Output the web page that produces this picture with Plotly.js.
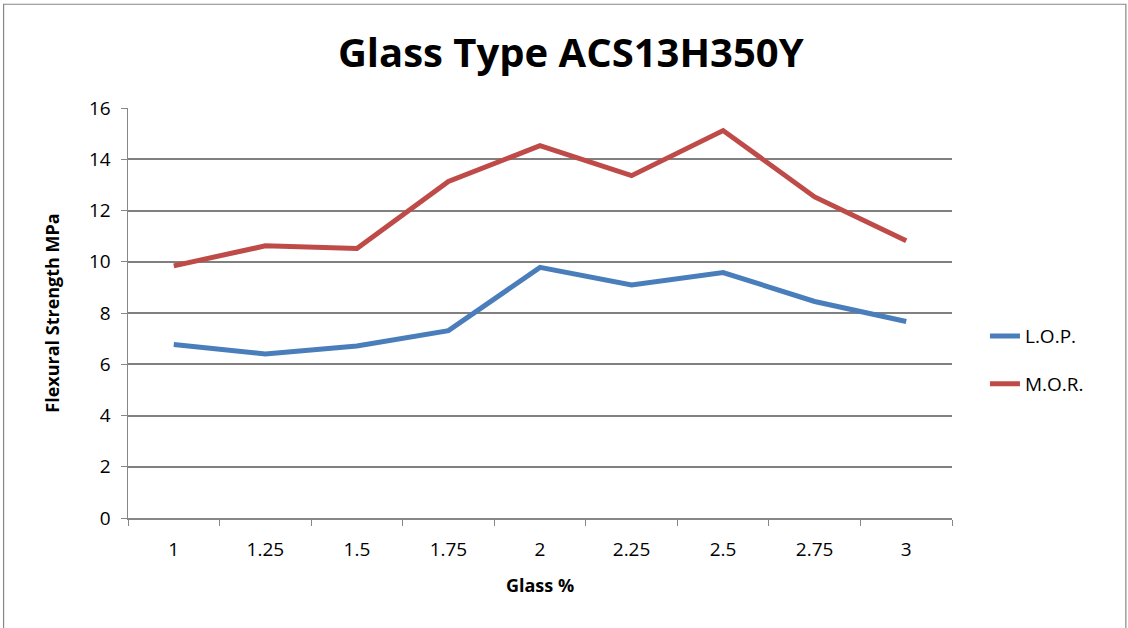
<!DOCTYPE html>
<html>
<head>
<meta charset="utf-8">
<script src="https://cdn.plot.ly/plotly-3.0.1.min.js"></script>
<style>html,body{margin:0;padding:0;background:#fff;}#chart{width:1128px;height:628px;}</style>
</head>
<body>
<div id="chart"></div>
<script>
const categories = ["1", "1.25", "1.5", "1.75", "2", "2.25", "2.5", "2.75", "3"];
const lopValues = [6.77, 6.40, 6.71, 7.31, 9.78, 9.09, 9.58, 8.45, 7.67];
const morValues = [9.84, 10.62, 10.52, 13.13, 14.53, 13.36, 15.12, 12.53, 10.82];
const yTicks = [0, 2, 4, 6, 8, 10, 12, 14, 16];

const FONT = "Open Sans, sans-serif";

const traces = [
  {x: categories, y: lopValues, name: "L.O.P.", type: "scatter", mode: "lines", legendgroup: "a",
   line: {color: "#4A7EBB", width: 5}},
  {x: categories, y: morValues, name: "M.O.R.", type: "scatter", mode: "lines", legendgroup: "b",
   line: {color: "#BE4B48", width: 5}}
];

const layout = {
  width: 1128, height: 628,
  margin: {l: 128, r: 176, t: 108, b: 110},
  paper_bgcolor: "#fff", plot_bgcolor: "#fff",
  font: {family: FONT, color: "#000", size: 19},
  title: {text: "<b>Glass Type ACS13H350Y</b>", font: {family: FONT, size: 40, color: "#000"},
          x: 0.506, xanchor: "center", xref: "container", y: 0.915, yanchor: "middle"},
  xaxis: {
    type: "category", range: [-0.5, 8.5], tickson: "boundaries", ticks: "outside", ticklen: 6, tickcolor: "#878787",
    showline: true, linecolor: "#878787", linewidth: 1.5, showgrid: false, zeroline: false,
    tickfont: {family: FONT, size: 19, color: "#000"}, ticklabelstandoff: 14,
    title: {text: "<b>Glass %</b>", font: {family: FONT, size: 18, color: "#000"}, standoff: 18}
  },
  yaxis: {
    range: [0, 16], tickvals: yTicks, ticks: "outside", ticklen: 6, tickcolor: "#878787",
    showline: true, linecolor: "#878787", linewidth: 1.5,
    showgrid: true, gridcolor: "#808080", gridwidth: 2, zeroline: false,
    tickfont: {family: FONT, size: 19, color: "#000"}, ticklabelstandoff: 6,
    title: {text: "<b>Flexural Strength MPa</b>", font: {family: FONT, size: 18, color: "#000"}, standoff: 24}
  },
  showlegend: true,
  legend: {x: 1.04, xanchor: "left", y: 0.385, yanchor: "middle", traceorder: "grouped",
           font: {family: FONT, size: 19, color: "#000"}, tracegroupgap: 20,
           bgcolor: "rgba(0,0,0,0)"},
  shapes: [
    {type: "rect", xref: "paper", yref: "paper", x0: -0.151, x1: 1.211, y0: -0.4, y1: 1.253,
     line: {color: "#878787", width: 1.2}, fillcolor: "rgba(0,0,0,0)", layer: "below"}
  ]
};

Plotly.newPlot("chart", traces, layout, {displayModeBar: false, staticPlot: true});
</script>
</body>
</html>
